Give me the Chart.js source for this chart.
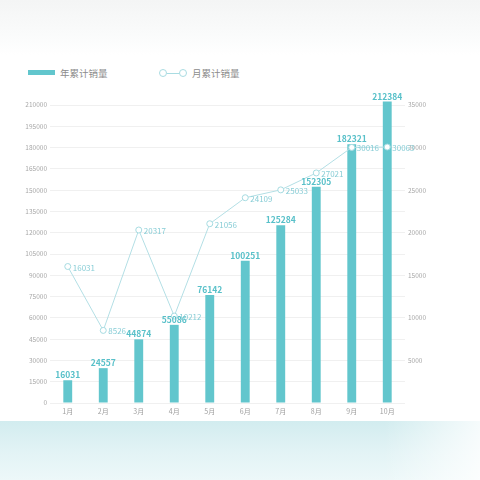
<!DOCTYPE html>
<html><head><meta charset="utf-8">
<script src="https://cdn.jsdelivr.net/npm/chart.js@4.4.1/dist/chart.umd.min.js"></script>
<style>
html,body{margin:0;padding:0;width:480px;height:480px;overflow:hidden;font-family:"Noto Sans CJK SC","Noto Sans",sans-serif;
background:linear-gradient(to bottom,#f4f5f5 0px,#fafbfb 35px,#ffffff 55px,#ffffff 100%);}
#bottomband{position:absolute;left:0;top:421px;width:480px;height:59px;
background:linear-gradient(to right,rgba(255,255,255,0) 80%,rgba(255,255,255,0.8) 100%),linear-gradient(to bottom,#d2ecef 0px,#e2f3f5 30px,#edf8f9 59px);}
#wrap{position:absolute;left:0;top:0;width:480px;height:480px;}
.leg{position:absolute;top:65px;height:16px;font-size:9.5px;color:#8c8c8c;line-height:16px;}
.sw{position:absolute;left:28px;top:70px;width:27px;height:5px;background:#62c6cd;}
.c{position:absolute;top:69px;width:6px;height:6px;border:1px solid #a9dce2;border-radius:50%;background:#fff;}
.ln{position:absolute;top:72.5px;left:167px;width:13px;height:1px;background:#a9dce2;}
</style></head>
<body>
<div id="bottomband"></div>
<div class="sw"></div><div class="leg" style="left:60px">年累计销量</div>
<div class="c" style="left:159px"></div><div class="ln"></div><div class="c" style="left:179px"></div>
<div class="leg" style="left:192px">月累计销量</div>
<div id="wrap"><canvas id="c" width="480" height="480"></canvas></div>
<script>
const months = ['1月','2月','3月','4月','5月','6月','7月','8月','9月','10月'];
const yearTotal = [16031,24557,44874,55086,76142,100251,125284,152305,182321,212384];
const monthTotal = [16031,8526,20317,10212,21056,24109,25033,27021,30016,30063];
const barColor = '#62c6cd';
const lineColor = '#b3dfe5';

const labelPlugin = {
  id:'valLabels',
  afterDatasetsDraw(chart){
    const ctx = chart.ctx;
    ctx.save();
    const bm = chart.getDatasetMeta(0);
    ctx.font = 'bold 8.5px "Noto Sans CJK SC", sans-serif';
    ctx.fillStyle = '#58c0c9';
    ctx.textAlign = 'center'; ctx.textBaseline = 'bottom';
    bm.data.forEach((el,i)=>{ ctx.fillText(String(yearTotal[i]), el.x, el.y - 1); });
    const lm = chart.getDatasetMeta(1);
    ctx.font = '8px "Noto Sans CJK SC", sans-serif';
    ctx.fillStyle = '#88cdd6';
    ctx.textAlign = 'left'; ctx.textBaseline = 'middle';
    lm.data.forEach((el,i)=>{ ctx.fillText(String(monthTotal[i]), el.x + 5, el.y + 1); });
    ctx.restore();
  }
};

new Chart(document.getElementById('c'), {
  data:{
    labels: months,
    datasets:[
      {type:'bar', label:'年累计销量', data:yearTotal, backgroundColor:barColor, barPercentage:0.25, categoryPercentage:1, yAxisID:'y', order:2, clip:false},
      {type:'line', label:'月累计销量', data:monthTotal, borderColor:lineColor, borderWidth:1, pointRadius:3, pointBorderWidth:1,
       pointBackgroundColor:'#ffffff', pointBorderColor:'#a6dbe1', tension:0, yAxisID:'y1', order:1, clip:false}
    ]
  },
  options:{
    responsive:false, animation:false,
    layout:{padding:{left:24, right:0, top:105, bottom:57}},
    plugins:{legend:{display:false}, tooltip:{enabled:false}},
    scales:{
      x:{grid:{display:false, drawTicks:false}, border:{display:false},
         ticks:{font:{size:7, family:'"Noto Sans CJK SC", sans-serif'}, color:'#a0a0a0', padding:4},
         afterFit(a){a.height = 20;}},
      y:{position:'left', min:0, max:210000,
         ticks:{stepSize:15000, font:{size:6.5, family:'"Noto Sans CJK SC", sans-serif'}, color:'#a8a8a8', padding:3,
                callback:(v)=> String(v)},
         grid:{color:'#f0f0f0', drawTicks:false}, border:{display:false},
         afterFit(a){a.width = 26;}},
      y1:{position:'right', min:0, max:35000,
         ticks:{stepSize:5000, font:{size:6.5, family:'"Noto Sans CJK SC", sans-serif'}, color:'#a8a8a8', padding:3,
                callback:(v)=> v===0 ? '' : String(v)},
         grid:{display:false, drawTicks:false}, border:{display:false},
         afterFit(a){a.width = 75;}}
    }
  },
  plugins:[labelPlugin]
});
</script>
</body></html>
